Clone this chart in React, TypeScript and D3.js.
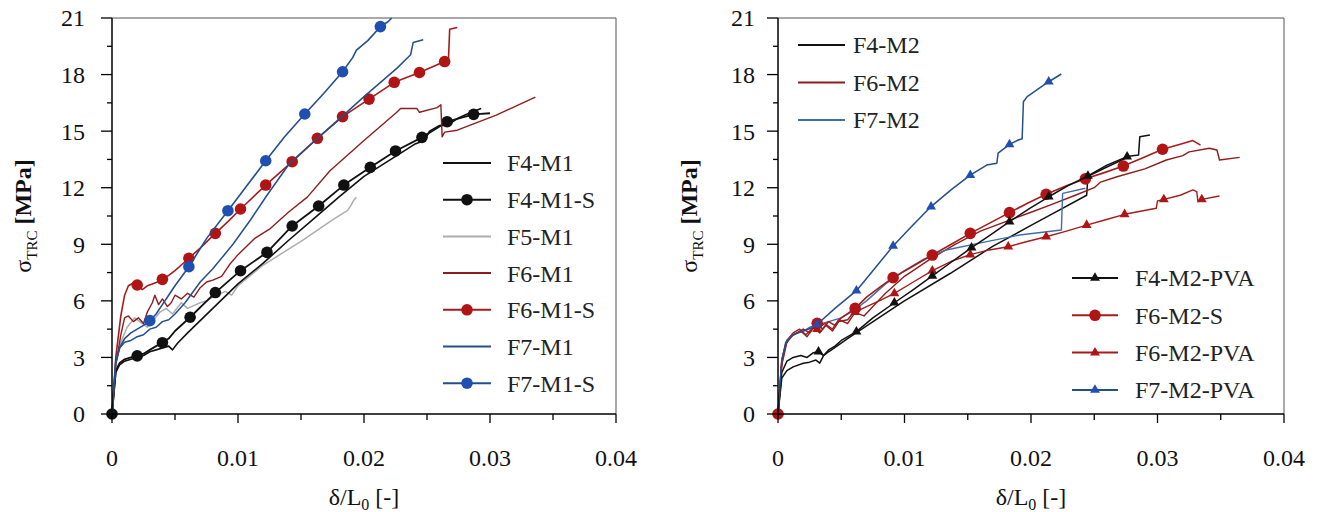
import React from 'react';
import * as d3 from 'd3';

type P = [number, number];

// ---------- axes ----------
const xTicks = [0, 0.01, 0.02, 0.03, 0.04];
const xTickLabels = ['0', '0.01', '0.02', '0.03', '0.04'];
const xMinor = [0.005, 0.015, 0.025, 0.035];
const yTicks = [0, 3, 6, 9, 12, 15, 18, 21];
const yMinor = [1.5, 4.5, 7.5, 10.5, 13.5, 16.5, 19.5];

// ---------- left panel data ----------
const F4_M1: P[] = [[0,0],[0.0003,2.2],[0.0006,2.6],[0.001,2.8],[0.0015,2.9],[0.002,3.0],[0.0025,3.1],[0.003,3.3],[0.0035,3.4],[0.004,3.5],[0.0045,3.6],[0.0048,3.4],[0.0052,3.75],[0.006,4.3],[0.008,5.6],[0.01,6.9],[0.012,8.0],[0.014,9.2],[0.016,10.35],[0.018,11.5],[0.02,12.6],[0.0226,13.7],[0.024,14.3],[0.0248,14.5],[0.0252,15.0],[0.026,15.3],[0.0266,15.3],[0.0275,15.7],[0.0285,16.0],[0.0293,16.2]];
const F4_M1_S: P[] = [[0,0],[0.0003,2.3],[0.0006,2.7],[0.001,2.9],[0.0015,3.0],[0.002,3.08],[0.0025,3.2],[0.003,3.4],[0.0035,3.6],[0.004,3.78],[0.0045,4.0],[0.005,4.4],[0.0062,5.13],[0.0082,6.44],[0.0102,7.6],[0.0123,8.57],[0.0143,9.97],[0.0164,11.03],[0.0184,12.14],[0.0205,13.08],[0.0225,13.95],[0.0246,14.67],[0.0266,15.5],[0.0287,15.89],[0.030,15.95]];
const F4_M1_S_marks: P[] = [[0,0],[0.002,3.08],[0.004,3.78],[0.0062,5.13],[0.0082,6.44],[0.0102,7.6],[0.0123,8.57],[0.0143,9.97],[0.0164,11.03],[0.0184,12.14],[0.0205,13.08],[0.0225,13.95],[0.0246,14.67],[0.0266,15.5],[0.0287,15.89]];
const F5_M1: P[] = [[0,0],[0.0003,2.6],[0.0007,3.8],[0.0012,4.6],[0.0018,5.1],[0.0022,4.9],[0.0028,4.6],[0.0033,5.0],[0.0038,5.4],[0.0043,5.6],[0.0048,5.3],[0.0055,5.9],[0.006,5.6],[0.007,5.9],[0.0075,6.0],[0.008,6.2],[0.009,6.5],[0.0095,6.3],[0.01,6.8],[0.012,7.9],[0.015,9.15],[0.0175,10.3],[0.0187,10.8],[0.019,11.1],[0.0192,11.35],[0.0194,11.5]];
const F6_M1: P[] = [[0,0],[0.0003,2.6],[0.0007,4.2],[0.001,5.1],[0.0013,5.2],[0.0017,4.9],[0.0021,5.1],[0.0025,4.8],[0.0028,5.4],[0.0032,5.9],[0.0034,6.3],[0.0037,5.8],[0.004,6.1],[0.0044,5.7],[0.0047,5.9],[0.005,6.3],[0.0055,6.1],[0.006,6.4],[0.0065,6.2],[0.007,6.7],[0.0075,7.0],[0.008,7.1],[0.0087,7.3],[0.0093,7.9],[0.01,8.45],[0.0113,9.3],[0.0125,9.8],[0.014,10.7],[0.0155,11.5],[0.0173,12.9],[0.02,14.5],[0.0226,16.0],[0.0229,16.2],[0.0242,16.2],[0.0244,16.0],[0.0258,16.25],[0.0261,16.4],[0.0262,14.7],[0.0264,14.95],[0.0274,15.05],[0.0305,15.85],[0.0336,16.8]];
const F6_M1_S: P[] = [[0,0],[0.0003,3.0],[0.0007,5.2],[0.001,6.3],[0.0013,6.8],[0.0017,6.95],[0.002,6.84],[0.0024,6.6],[0.0028,6.8],[0.0032,6.9],[0.0036,7.0],[0.004,7.14],[0.0045,7.35],[0.005,7.6],[0.0055,7.9],[0.0061,8.26],[0.007,8.8],[0.0082,9.58],[0.0092,10.2],[0.0102,10.87],[0.0122,12.14],[0.0143,13.38],[0.0163,14.62],[0.0183,15.77],[0.0204,16.7],[0.0224,17.59],[0.0244,18.11],[0.0264,18.69],[0.0267,18.75],[0.0268,20.4],[0.0274,20.5]];
const F6_M1_S_marks: P[] = [[0.002,6.84],[0.004,7.14],[0.0061,8.26],[0.0082,9.58],[0.0102,10.87],[0.0122,12.14],[0.0143,13.38],[0.0163,14.62],[0.0183,15.77],[0.0204,16.7],[0.0224,17.59],[0.0244,18.11],[0.0264,18.69]];
const F7_M1: P[] = [[0,0],[0.0003,2.7],[0.0006,3.5],[0.001,3.8],[0.0015,3.9],[0.002,4.1],[0.0025,4.2],[0.003,4.5],[0.0035,4.6],[0.004,4.9],[0.0045,5.0],[0.005,5.3],[0.0058,5.9],[0.007,7.0],[0.008,7.7],[0.0096,9.0],[0.011,10.3],[0.0123,11.6],[0.0141,13.3],[0.0163,14.62],[0.0184,15.86],[0.02,16.83],[0.0226,18.33],[0.0237,19.05],[0.0239,19.7],[0.0247,19.85]];
const F7_M1_S: P[] = [[0,0],[0.0003,2.8],[0.0006,3.5],[0.001,4.0],[0.0015,4.3],[0.002,4.5],[0.0025,4.7],[0.003,4.95],[0.0035,5.3],[0.004,5.8],[0.005,6.8],[0.0061,7.81],[0.0075,9.3],[0.0092,10.78],[0.0107,12.1],[0.0122,13.43],[0.0137,14.7],[0.0153,15.91],[0.0168,17.0],[0.0183,18.15],[0.0191,18.9],[0.0194,19.3],[0.0203,19.8],[0.0213,20.54],[0.0219,20.8],[0.0222,21.0]];
const F7_M1_S_marks: P[] = [[0.003,4.95],[0.0061,7.81],[0.0092,10.78],[0.0122,13.43],[0.0153,15.91],[0.0183,18.15],[0.0213,20.54]];

// ---------- right panel data ----------
const F4_M2: P[] = [[0,0],[0.0003,1.9],[0.0007,2.3],[0.0012,2.5],[0.002,2.69],[0.0025,2.75],[0.003,2.86],[0.0033,2.7],[0.0036,3.1],[0.004,3.3],[0.0046,3.57],[0.0055,4.0],[0.0065,4.45],[0.0099,5.96],[0.0136,7.45],[0.017,8.9],[0.02,10.0],[0.0215,10.55],[0.0244,11.6],[0.0245,12.6],[0.026,13.1],[0.0276,13.6]];
const F6_M2: P[] = [[0,0],[0.0003,2.6],[0.0007,3.8],[0.0012,4.2],[0.0018,4.4],[0.0023,4.1],[0.0028,4.6],[0.0033,4.3],[0.0038,4.7],[0.0043,4.4],[0.0048,4.9],[0.0055,5.0],[0.006,5.4],[0.0068,5.2],[0.0075,5.7],[0.0085,6.4],[0.01,7.3],[0.012,8.2],[0.014,9.0],[0.016,9.7],[0.018,10.2],[0.02,10.7],[0.0215,11.08],[0.0235,11.6],[0.025,12.0],[0.0255,12.3],[0.0268,12.58],[0.029,13.0],[0.0307,13.47],[0.032,13.7],[0.0325,13.9],[0.0341,14.09],[0.0347,14.0],[0.0349,13.47],[0.0365,13.61]];
const F7_M2: P[] = [[0,0],[0.0003,2.8],[0.0006,3.8],[0.001,4.1],[0.0015,4.3],[0.002,4.4],[0.0025,4.6],[0.003,4.7],[0.0035,4.8],[0.004,4.9],[0.005,5.1],[0.006,5.5],[0.007,6.0],[0.0085,6.9],[0.01,7.6],[0.0115,8.2],[0.0133,8.7],[0.0165,9.14],[0.0191,9.49],[0.0224,9.76],[0.0225,11.7],[0.0243,11.97]];
const F4_M2_PVA: P[] = [[0,0],[0.0003,2.2],[0.0007,2.8],[0.0012,3.0],[0.0018,3.1],[0.0023,3.0],[0.0028,3.25],[0.0032,3.31],[0.0036,3.1],[0.004,3.4],[0.0045,3.6],[0.005,3.9],[0.0062,4.37],[0.0075,5.1],[0.0092,5.9],[0.0107,6.6],[0.0122,7.32],[0.0138,8.1],[0.0153,8.82],[0.0168,9.5],[0.0183,10.2],[0.0199,10.9],[0.0214,11.52],[0.0229,12.1],[0.0245,12.62],[0.026,13.2],[0.0276,13.65],[0.0285,13.73],[0.0286,14.7],[0.0294,14.8]];
const F4_M2_PVA_marks: P[] = [[0.0032,3.31],[0.0062,4.37],[0.0092,5.9],[0.0122,7.32],[0.0153,8.82],[0.0183,10.2],[0.0214,11.52],[0.0245,12.62],[0.0276,13.65]];
const F6_M2_S: P[] = [[0,0],[0.0003,2.8],[0.0006,3.7],[0.001,4.1],[0.0015,4.3],[0.002,4.5],[0.0025,4.3],[0.0031,4.81],[0.0035,4.5],[0.004,4.9],[0.0045,4.7],[0.005,5.1],[0.0061,5.6],[0.007,6.2],[0.008,6.7],[0.0091,7.23],[0.0107,7.85],[0.0122,8.43],[0.0137,9.0],[0.0152,9.58],[0.0168,10.15],[0.0183,10.68],[0.0198,11.2],[0.0212,11.65],[0.0228,12.1],[0.0243,12.47],[0.0258,12.8],[0.0273,13.15],[0.0289,13.6],[0.0304,14.04],[0.0318,14.3],[0.0328,14.5],[0.0334,14.26]];
const F6_M2_S_marks: P[] = [[0,0],[0.0031,4.81],[0.0061,5.6],[0.0091,7.23],[0.0122,8.43],[0.0152,9.58],[0.0183,10.68],[0.0212,11.65],[0.0243,12.47],[0.0273,13.15],[0.0304,14.04]];
const F6_M2_PVA: P[] = [[0,0],[0.0003,2.7],[0.0007,3.9],[0.0012,4.3],[0.0017,4.5],[0.0022,4.2],[0.0028,4.6],[0.0031,4.5],[0.0037,4.8],[0.0043,4.5],[0.0048,5.0],[0.0055,4.8],[0.0061,5.4],[0.007,5.7],[0.008,6.0],[0.0092,6.4],[0.0107,7.0],[0.0122,7.6],[0.0137,8.1],[0.0152,8.45],[0.0167,8.7],[0.0182,8.87],[0.0197,9.15],[0.0212,9.4],[0.0228,9.7],[0.0244,10.02],[0.0259,10.3],[0.0274,10.59],[0.0299,10.91],[0.03,11.3],[0.0305,11.38],[0.0318,11.6],[0.0328,11.88],[0.0331,11.79],[0.0332,11.26],[0.0335,11.38],[0.0349,11.56]];
const F6_M2_PVA_marks: P[] = [[0.0031,4.5],[0.0061,5.4],[0.0092,6.4],[0.0122,7.6],[0.0152,8.45],[0.0182,8.87],[0.0212,9.4],[0.0244,10.02],[0.0274,10.59],[0.0305,11.38],[0.0335,11.38]];
const F7_M2_PVA: P[] = [[0,0],[0.0003,2.9],[0.0007,3.9],[0.0012,4.2],[0.002,4.4],[0.0028,4.6],[0.0031,4.75],[0.0035,5.0],[0.0045,5.6],[0.0062,6.54],[0.0075,7.6],[0.0091,8.91],[0.0105,9.9],[0.0121,11.0],[0.0137,11.9],[0.0152,12.67],[0.0165,13.2],[0.0173,13.3],[0.0174,13.83],[0.0183,14.3],[0.019,14.53],[0.0193,14.6],[0.0194,16.56],[0.0197,16.83],[0.0214,17.62],[0.0224,18.03]];
const F7_M2_PVA_marks: P[] = [[0.0031,4.75],[0.0062,6.54],[0.0091,8.91],[0.0121,11.0],[0.0152,12.67],[0.0183,14.3],[0.0214,17.62]];

type Series = {
  name: string;
  data: P[];
  marks?: P[];
  color: string;
  markColor?: string;
  width: number;
  mark?: 'circle' | 'tri';
};

const BLACK = '#111111';
const GRAY = '#adadad';
const MAROON = '#8e1c1c';
const RED = '#a51c1c';
const REDM = '#b01414';
const BLUE = '#234f8c';
const BLUEM = '#1f4fb0';
const LBLUE = '#3e6fa8';

const leftSeries: Series[] = [
  { name: 'F5-M1', data: F5_M1, color: GRAY, width: 1.5 },
  { name: 'F4-M1', data: F4_M1, color: BLACK, width: 1.6 },
  { name: 'F4-M1-S', data: F4_M1_S, marks: F4_M1_S_marks, color: BLACK, markColor: BLACK, width: 1.8, mark: 'circle' },
  { name: 'F6-M1', data: F6_M1, color: MAROON, width: 1.4 },
  { name: 'F6-M1-S', data: F6_M1_S, marks: F6_M1_S_marks, color: RED, markColor: REDM, width: 1.6, mark: 'circle' },
  { name: 'F7-M1', data: F7_M1, color: BLUE, width: 1.5 },
  { name: 'F7-M1-S', data: F7_M1_S, marks: F7_M1_S_marks, color: BLUE, markColor: BLUEM, width: 1.6, mark: 'circle' },
];
const leftLegendOrder = ['F4-M1', 'F4-M1-S', 'F5-M1', 'F6-M1', 'F6-M1-S', 'F7-M1', 'F7-M1-S'];

const rightSeries: Series[] = [
  { name: 'F4-M2', data: F4_M2, color: BLACK, width: 1.5 },
  { name: 'F6-M2', data: F6_M2, color: MAROON, width: 1.4 },
  { name: 'F7-M2', data: F7_M2, color: LBLUE, width: 1.4 },
  { name: 'F6-M2-PVA', data: F6_M2_PVA, marks: F6_M2_PVA_marks, color: RED, markColor: REDM, width: 1.4, mark: 'tri' },
  { name: 'F6-M2-S', data: F6_M2_S, marks: F6_M2_S_marks, color: RED, markColor: REDM, width: 1.6, mark: 'circle' },
  { name: 'F4-M2-PVA', data: F4_M2_PVA, marks: F4_M2_PVA_marks, color: BLACK, markColor: BLACK, width: 1.5, mark: 'tri' },
  { name: 'F7-M2-PVA', data: F7_M2_PVA, marks: F7_M2_PVA_marks, color: BLUE, markColor: BLUEM, width: 1.5, mark: 'tri' },
];
const rightLegendTop = ['F4-M2', 'F6-M2', 'F7-M2'];
const rightLegendBottom = ['F4-M2-PVA', 'F6-M2-S', 'F6-M2-PVA', 'F7-M2-PVA'];

const FONT = "'Liberation Serif', 'Times New Roman', Times, serif";
const triPath = d3.symbol().type(d3.symbolTriangle).size(42)() as string;

function Marker({ s, x, y }: { s: Series; x: number; y: number }) {
  if (s.mark === 'circle') return <circle cx={x} cy={y} r={5.8} fill={s.markColor} />;
  if (s.mark === 'tri') return <path d={triPath} transform={`translate(${x},${y})`} fill={s.markColor} />;
  return null;
}

type Legend = { names: string[]; x1: number; x2: number; tx: number; y0: number; dy: number };

function Panel({ x0, x1, series, legends, yLabelX, tickEnd }: { x0: number; x1: number; series: Series[]; legends: Legend[]; yLabelX: number; tickEnd: number }) {
  const xs = d3.scaleLinear().domain([0, 0.04]).range([x0, x1]);
  const ys = d3.scaleLinear().domain([0, 21]).range([414, 18]);
  const line = d3.line<P>().x(d => xs(d[0])).y(d => ys(d[1]));
  const top = ys(21), bot = ys(0);
  const byName = (n: string) => series.find(s => s.name === n)!;
  const txt = { fontFamily: FONT };
  return (
    <g>
      <line x1={x0} x2={x1} y1={top} y2={top} stroke="#555" strokeWidth={1} />
      <line x1={x1} x2={x1} y1={top} y2={bot} stroke="#555" strokeWidth={1} />
      {series.map(s => (
        <g key={s.name}>
          <path d={line(s.data) as string} fill="none" stroke={s.color} strokeWidth={s.width} strokeLinejoin="round" />
          {s.marks && s.marks.map((m, i) => <Marker key={i} s={s} x={xs(m[0])} y={ys(m[1])} />)}
        </g>
      ))}
      <line x1={x0} x2={x1} y1={bot} y2={bot} stroke="#000" strokeWidth={1.5} />
      <line x1={x0} x2={x0} y1={top} y2={bot} stroke="#000" strokeWidth={1.5} />
      {xTicks.map((t, i) => (
        <g key={'xt' + i}>
          <line x1={xs(t)} x2={xs(t)} y1={bot} y2={bot + 9} stroke="#000" strokeWidth={1.3} />
          <text x={xs(t)} y={466} textAnchor="middle" style={txt} fontSize={24} fill="#111">{xTickLabels[i]}</text>
        </g>
      ))}
      {xMinor.map((t, i) => (
        <line key={'xm' + i} x1={xs(t)} x2={xs(t)} y1={bot} y2={bot + 6} stroke="#000" strokeWidth={1.3} />
      ))}
      {yTicks.map((t, i) => (
        <g key={'yt' + i}>
          <line x1={x0 - 11} x2={x0} y1={ys(t)} y2={ys(t)} stroke="#000" strokeWidth={1.3} />
          <text x={tickEnd} y={ys(t)} dy="0.35em" textAnchor="end" style={txt} fontSize={24} fill="#111">{t}</text>
        </g>
      ))}
      {yMinor.map((t, i) => (
        <line key={'ym' + i} x1={x0 - 5} x2={x0} y1={ys(t)} y2={ys(t)} stroke="#000" strokeWidth={1.3} />
      ))}
      <text transform={`translate(${yLabelX},${(top + bot) / 2}) rotate(-90)`} textAnchor="middle" style={txt} fontSize={24} fill="#111">
        <tspan>σ</tspan>
        <tspan fontSize={15} dy={6}>TRC</tspan>
        <tspan dy={-6} fontWeight="bold"> [MPa]</tspan>
      </text>
      <text x={(x0 + x1) / 2} y={505} textAnchor="middle" style={txt} fontSize={24} fill="#111">
        <tspan>δ/L</tspan>
        <tspan fontSize={16} dy={5}>0</tspan>
        <tspan dy={-5}> [-]</tspan>
      </text>
      {legends.map((lg, li) => (
        <g key={'lg' + li}>
          {lg.names.map((n, i) => {
            const s = byName(n);
            const y = lg.y0 + i * lg.dy;
            return (
              <g key={n}>
                <line x1={lg.x1} x2={lg.x2} y1={y} y2={y} stroke={s.color} strokeWidth={2} />
                {s.mark && <Marker s={s} x={(lg.x1 + lg.x2) / 2} y={y} />}
                <text x={lg.tx} y={y} dy="0.35em" style={txt} fontSize={24} fill="#222">{n}</text>
              </g>
            );
          })}
        </g>
      ))}
    </g>
  );
}

export default function App() {
  return (
    <svg width={1323} height={512} style={{ position: 'absolute', left: 0, top: 0, background: '#fff' }}>
      <rect x={0} y={0} width={1323} height={512} fill="#fff" />
      <Panel
        x0={112}
        x1={616}
        series={leftSeries}
        legends={[{ names: leftLegendOrder, x1: 443, x2: 491, tx: 507, y0: 163, dy: 36.7 }]}
        yLabelX={31}
        tickEnd={85}
      />
      <Panel
        x0={778}
        x1={1284}
        series={rightSeries}
        legends={[
          { names: rightLegendTop, x1: 798, x2: 845, tx: 853, y0: 45, dy: 37.5 },
          { names: rightLegendBottom, x1: 1072, x2: 1118, tx: 1135, y0: 278, dy: 37.3 },
        ]}
        yLabelX={697}
        tickEnd={755}
      />
    </svg>
  );
}
